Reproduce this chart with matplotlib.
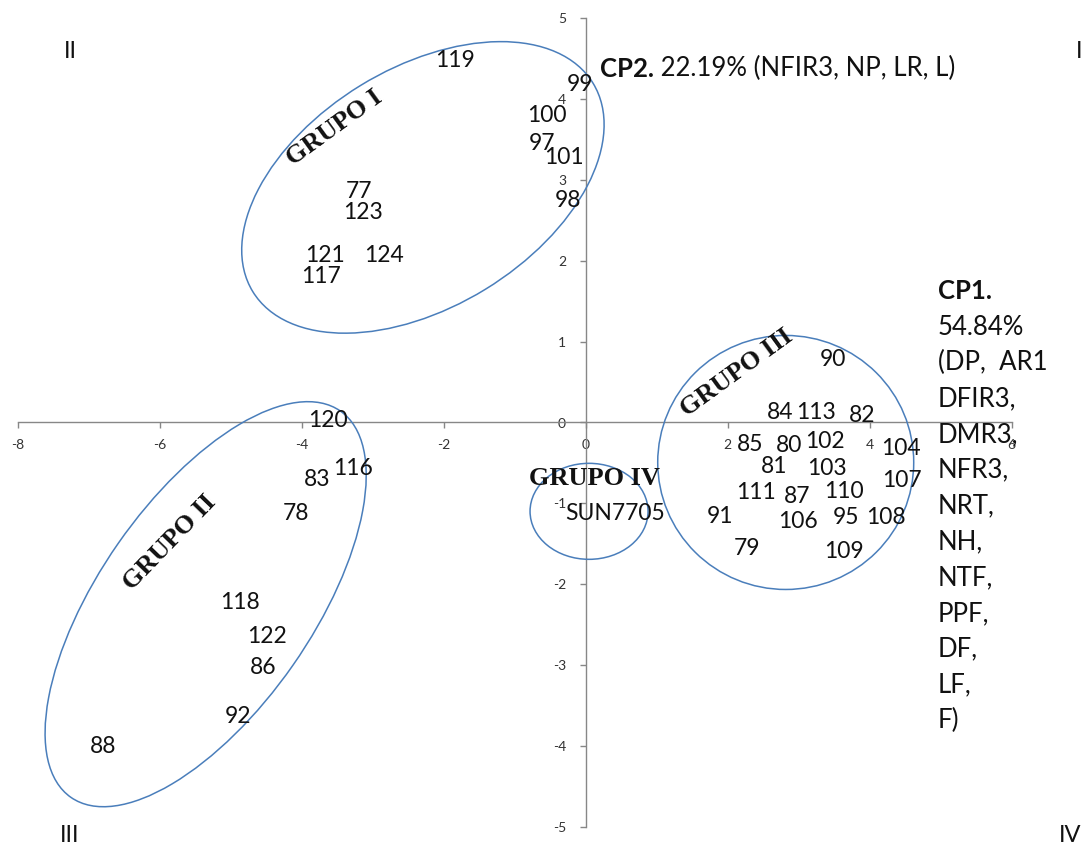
import matplotlib
matplotlib.use("Agg")
import matplotlib.pyplot as plt
import matplotlib.transforms as mtransforms
from matplotlib.patches import Ellipse

# ---- data: principal component scores of each genotype (CP1, CP2) ----
genotypes = ["119", "99", "100", "97", "101", "98", "77", "123", "121", "124", "117",
             "120", "83", "116", "78", "118", "122", "86", "92", "88",
             "SUN7705",
             "90", "84", "113", "82", "85", "80", "102", "104", "81", "103", "107",
             "111", "87", "110", "91", "106", "95", "108", "79", "109"]
cp1 = [-1.84, -0.08, -0.54, -0.61, -0.30, -0.25, -3.19, -3.13, -3.67, -2.84, -3.73,
       -3.63, -3.78, -3.27, -4.08, -4.87, -4.49, -4.54, -4.89, -6.80,
       0.42,
       3.49, 2.74, 3.24, 3.89, 2.32, 2.87, 3.37, 4.44, 2.65, 3.40, 4.46,
       2.40, 2.98, 3.64, 1.89, 2.99, 3.67, 4.23, 2.27, 3.64]
cp2 = [4.47, 4.18, 3.79, 3.45, 3.28, 2.74, 2.85, 2.59, 2.06, 2.07, 1.80,
       0.02, -0.70, -0.57, -1.12, -2.23, -2.64, -3.03, -3.64, -4.01,
       -1.12,
       0.78, 0.12, 0.12, 0.09, -0.27, -0.29, -0.24, -0.32, -0.55, -0.57, -0.72,
       -0.87, -0.91, -0.85, -1.16, -1.22, -1.18, -1.17, -1.56, -1.60]

# ---- groups: label, label position/rotation, enclosing ellipse ----
group_names = ["GRUPO I", "GRUPO II", "GRUPO III", "GRUPO IV"]
group_label_x = [-3.53, -5.86, 2.13, 0.13]
group_label_y = [3.64, -1.49, 0.62, -0.69]
group_label_rot = [36, 46, 36, 0]
ell_cx = [-2.29, -5.35, 2.82, 0.05]
ell_cy = [2.906, -2.246, -0.494, -1.098]
ell_w_in = [3.99, 4.71, 2.56, 1.18]     # ellipse width (inches)
ell_h_in = [2.39, 2.13, 2.54, 0.96]     # ellipse height (inches)
ell_angle = [31.5, 55.1, 0.0, 0.0]

x_ticks = list(range(-8, 7, 2))
y_ticks = list(range(-5, 6))

cp2_title_bold = "CP2."
cp2_title_rest = " 22.19% (NFIR3, NP, LR, L)"
cp1_title_bold = "CP1."
cp1_lines = ["54.84%", "(DP,  AR1", "DFIR3,", "DMR3,", "NFR3,", "NRT,", "NH,",
             "NTF,", "PPF,", "DF,", "LF,", "F)"]
quadrants = ["I", "II", "III", "IV"]

plt.rcParams["axes.unicode_minus"] = False
plt.rcParams["font.family"] = ["Lato", "DejaVu Sans"]

W, H = 1084, 846
fig = plt.figure(figsize=(W / 100, H / 100), dpi=100)
ax = fig.add_axes([17.5 / W, (H - 827) / H, 994 / W, 809 / H])
ax.set_xlim(-8, 6)
ax.set_ylim(-5, 5)

axis_color = "#878787"
for side in ("top", "right"):
    ax.spines[side].set_visible(False)
ax.spines["left"].set_position(("data", 0))
ax.spines["bottom"].set_position(("data", 0))
for side in ("left", "bottom"):
    ax.spines[side].set_color(axis_color)
    ax.spines[side].set_linewidth(1.0)
ax.set_xticks(x_ticks)
ax.set_yticks(y_ticks)
ax.tick_params(direction="out", length=4, width=1.0, color=axis_color,
               labelsize=10, labelcolor="#333333")
ax.tick_params(axis="x", pad=8)
ax.tick_params(axis="y", pad=10)

# genotype labels (the labels are the marks)
text_color = "#111111"
for name, x, y in zip(genotypes, cp1, cp2):
    ax.text(x, y, name, ha="center", va="center", fontsize=16.5,
            color=text_color, zorder=5)

# group ellipses and group names
ell_color = "#4A7EBB"
for i in range(len(group_names)):
    tr = fig.dpi_scale_trans + mtransforms.ScaledTranslation(ell_cx[i], ell_cy[i], ax.transData)
    e = Ellipse((0, 0), ell_w_in[i], ell_h_in[i], angle=ell_angle[i], transform=tr,
                fill=False, edgecolor=ell_color, linewidth=1.1, clip_on=False, zorder=3)
    ax.add_patch(e)
    ax.text(group_label_x[i], group_label_y[i], group_names[i], ha="center", va="center",
            rotation=group_label_rot[i], rotation_mode="anchor",
            family="Liberation Serif", fontweight="bold", fontsize=19,
            color=text_color, zorder=6)

# axis titles
title_size = 18.5
t_bold = fig.text(600 / W, 1 - 69 / H, cp2_title_bold, ha="left", va="center",
                  fontsize=title_size, fontweight="bold", color=text_color)
ax.annotate(cp2_title_rest, xy=(1, 0), xycoords=t_bold, ha="left", va="bottom",
            fontsize=title_size, color=text_color, annotation_clip=False)

fig.text(938 / W, 1 - 291 / H, cp1_title_bold, ha="left", va="center",
         fontsize=title_size, fontweight="bold", color=text_color)
for k, line in enumerate(cp1_lines):
    fig.text(938 / W, 1 - (327 + 35.8 * k) / H, line, ha="left", va="center",
             fontsize=title_size, color=text_color)

# quadrant numerals
quad_px = [(1079, 52), (70, 52), (70, 835), (1070, 835)]
for q, (px, py) in zip(quadrants, quad_px):
    fig.text(px / W, 1 - py / H, q, ha="center", va="center", fontsize=17,
             color=text_color)

fig.savefig("out.png", dpi=100)
